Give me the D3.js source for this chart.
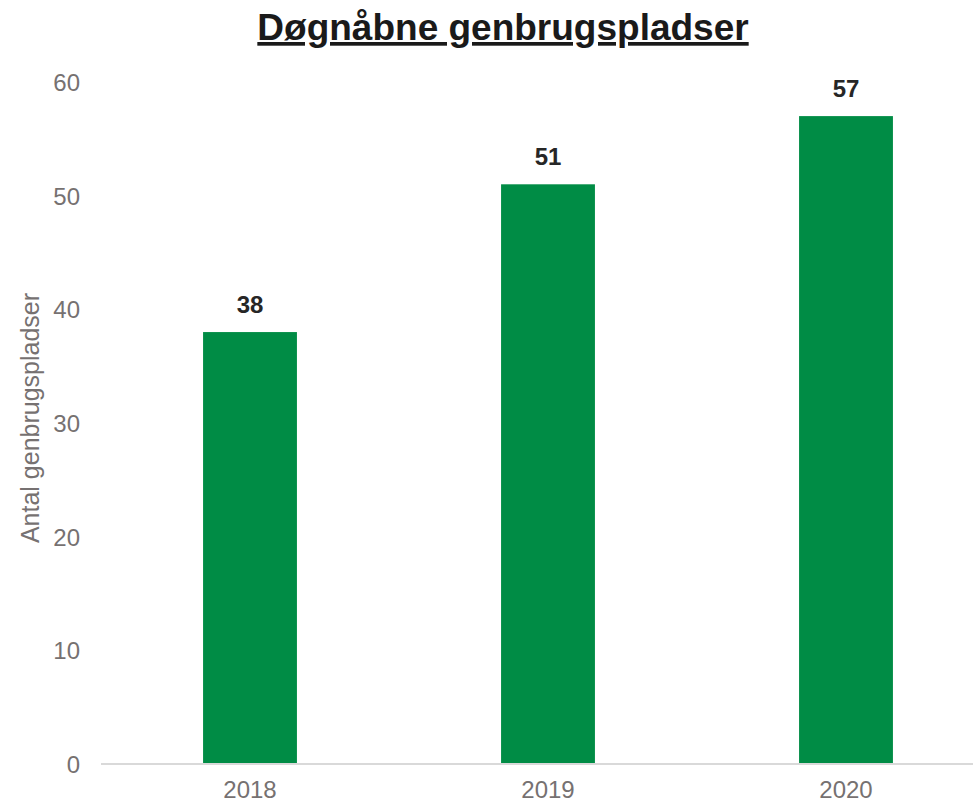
<!DOCTYPE html>
<html>
<head>
<meta charset="utf-8">
<script src="https://cdn.jsdelivr.net/npm/d3@7"></script>
<style>
  body { margin: 0; background: #fff; }
  text { font-family: "Liberation Sans", Arial, sans-serif; }
</style>
</head>
<body>
<div id="chart"></div>
<script>
// Data
var years = ["2018", "2019", "2020"];
var counts = [38, 51, 57];
var yTicks = [0, 10, 20, 30, 40, 50, 60];

var width = 973, height = 803;

var svg = d3.select("#chart").append("svg")
    .attr("width", width)
    .attr("height", height);

// Plot area (the last band runs past the right edge, as in the original)
var x = d3.scaleBand()
    .domain(years)
    .range([101, 995])
    .paddingInner(0.685)
    .paddingOuter(0.3425);

var y = d3.scaleLinear()
    .domain([0, 60])
    .range([764, 82]);

// Title
svg.append("text")
    .attr("x", 503)
    .attr("y", 40)
    .attr("text-anchor", "middle")
    .style("font-size", "37px")
    .style("font-weight", "bold")
    .style("fill", "#1a1a1a")
    .style("text-decoration", "underline")
    .text("Døgnåbne genbrugspladser");

// Y axis (labels only)
var yAxis = d3.axisLeft(y)
    .tickValues(yTicks)
    .tickSize(0)
    .tickPadding(0);

var gy = svg.append("g")
    .attr("transform", "translate(80,0)")
    .call(yAxis);
gy.select(".domain").remove();
gy.selectAll("text")
    .attr("dy", "0.35em")
    .style("font-size", "24px")
    .style("fill", "#767171")
    .style("font-family", "'Liberation Sans', Arial, sans-serif");

// Y axis title
svg.append("text")
    .attr("transform", "translate(39,418) rotate(-90)")
    .attr("text-anchor", "middle")
    .style("font-size", "25px")
    .style("fill", "#767171")
    .text("Antal genbrugspladser");

// Bars
svg.selectAll(".bar")
    .data(counts)
    .enter().append("rect")
    .attr("class", "bar")
    .attr("x", function(d, i) { return x(years[i]); })
    .attr("width", x.bandwidth())
    .attr("y", function(d) { return y(d); })
    .attr("height", function(d) { return y(0) - y(d); })
    .style("fill", "#008c45");

// X axis
var xAxis = d3.axisBottom(x)
    .tickSize(0)
    .tickPadding(0);

var gx = svg.append("g")
    .attr("transform", "translate(0," + y(0) + ")")
    .call(xAxis);
gx.select(".domain").remove();
gx.append("line")
    .attr("x1", 101)
    .attr("x2", width)
    .attr("y1", 0)
    .attr("y2", 0)
    .style("stroke", "#d9d9d9")
    .style("stroke-width", 2);
gx.selectAll(".tick text")
    .attr("dy", 0)
    .attr("y", 34)
    .style("font-size", "24px")
    .style("fill", "#767171")
    .style("font-family", "'Liberation Sans', Arial, sans-serif");

// Value labels
svg.selectAll(".label")
    .data(counts)
    .enter().append("text")
    .attr("class", "label")
    .attr("x", function(d, i) { return x(years[i]) + x.bandwidth() / 2; })
    .attr("y", function(d) { return y(d) - 19; })
    .attr("text-anchor", "middle")
    .style("font-size", "24px")
    .style("font-weight", "bold")
    .style("fill", "#262626")
    .text(function(d) { return d; });
</script>
</body>
</html>
